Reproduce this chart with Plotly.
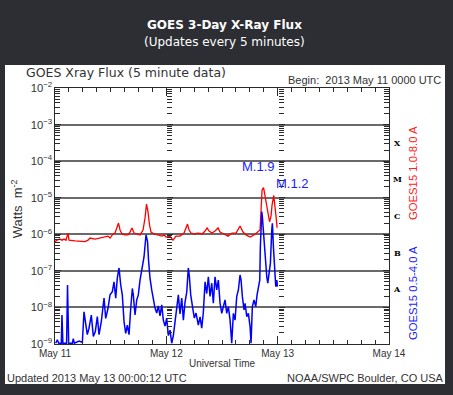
import plotly.graph_objects as go

# ---------------- data ----------------
day_labels = ["May 11", "May 12", "May 13", "May 14"]
day_hours = [0, 24, 48, 72]

class_letters = ["X", "M", "C", "B", "A"]
class_levels = [-3.5, -4.5, -5.5, -6.5, -7.5]   # log10 of mid-decade

# GOES15 1.0-8.0 A (hours since 2013 May 11 00:00 UTC, W m^-2)
red_hours = [0, 0.43, 1.08, 1.51, 1.94, 2.37, 2.80, 3.02, 4.31, 5.39,
             6.47, 7.12, 7.55, 8.63, 9.70, 10.78, 11.43, 11.86, 12.51, 12.94,
             13.37, 13.69, 14.02, 14.45, 15.09, 15.74, 16.17, 16.60, 17.03, 17.68,
             18.33, 18.98, 19.41, 19.73, 20.05, 20.38, 20.70, 21.35, 22.21, 23.07,
             23.50, 23.94, 24.80, 25.44, 26.09, 26.95, 27.82, 28.57, 28.89, 29.33,
             29.97, 30.84, 31.70, 32.35, 32.78, 33.21, 33.85, 34.50, 35.15, 35.58,
             36.44, 37.30, 38.17, 39.03, 39.89, 40.54, 41.18, 42.05, 42.91, 43.77,
             44.20, 44.42, 44.64, 44.96, 45.28, 45.61, 45.93, 46.25, 46.58, 46.79,
             47.16, 47.44, 47.66, 47.87, 47.98]
red_flux = [6.3e-7, 6.9e-7, 7.4e-7, 6.9e-7, 7.4e-7, 6.9e-7, 1.08e-6, 6.9e-7, 6.6e-7, 6.6e-7,
            6.3e-7, 6.9e-7, 7.9e-7, 7.4e-7, 7.9e-7, 8.2e-7, 8.9e-7, 7.9e-7, 1.02e-6, 1.08e-6,
            1.49e-6, 2.03e-6, 1.31e-6, 1.02e-6, 9.6e-7, 9.6e-7, 1.15e-6, 1.49e-6, 1.08e-6, 1.02e-6,
            9.6e-7, 1.31e-6, 2.8e-6, 6.7e-6, 4.1e-6, 1.78e-6, 1.15e-6, 1.02e-6, 9.6e-7, 8.9e-7,
            9.6e-7, 8.4e-7, 8.9e-7, 6.9e-7, 8.9e-7, 8.9e-7, 1.08e-6, 1.9e-6, 1.31e-6, 1.08e-6,
            1.02e-6, 1.08e-6, 1.02e-6, 1.23e-6, 1.49e-6, 1.23e-6, 1.08e-6, 1.23e-6, 1.49e-6, 1.15e-6,
            1.02e-6, 8.9e-7, 1.08e-6, 1.08e-6, 1.69e-6, 1.15e-6, 9.6e-7, 8.4e-7, 9.6e-7, 1.23e-6,
            1.31e-6, 4.6e-6, 1.62e-5, 1.9e-5, 1.05e-5, 5.6e-6, 3.2e-6, 2.2e-6, 3.2e-6, 6.3e-6,
            1.15e-5, 6.3e-6, 3.0e-6, 1.58e-6, 1.6e-6]

# GOES15 0.5-4.0 A
blue_hours = [0.15, 0.5, 0.8, 1.36, 1.5, 1.7, 2.5, 2.7, 2.95, 3.73,
              3.95, 4.16, 5.2, 5.9, 6.25, 6.6, 6.96, 7.33, 7.83, 8.26,
              8.69, 9.12, 9.49, 9.98, 10.57, 10.93, 11.43, 11.86, 12.36, 12.72,
              13.09, 13.43, 13.8, 14.17, 14.51, 14.88, 15.24, 15.59, 15.96, 16.32,
              16.67, 16.88, 17.25, 17.62, 17.96, 18.33, 18.76, 19.19, 19.62, 19.95,
              20.16, 20.48, 20.85, 21.2, 21.56, 21.93, 22.27, 22.64, 23.01, 23.35,
              23.72, 24.08, 24.43, 24.80, 25.16, 25.51, 25.88, 26.24, 26.59, 26.95,
              27.32, 27.67, 28.03, 28.40, 28.74, 28.96, 29.26, 29.69, 30.04, 30.40,
              30.90, 31.27, 31.63, 31.98, 32.35, 32.71, 33.06, 33.42, 33.79, 34.13,
              34.50, 34.87, 35.21, 35.58, 35.95, 36.29, 36.66, 37.02, 37.37, 37.74,
              38.10, 38.45, 38.81, 39.18, 39.53, 39.89, 40.11, 40.39, 40.75, 40.97,
              41.34, 41.68, 42.05, 42.26, 42.54, 42.91, 43.28, 43.56, 43.84, 44.14,
              44.27, 44.42, 44.57, 44.70, 44.91, 45.13, 45.43, 45.65, 45.87, 46.15,
              46.43, 46.73, 46.86, 47.08, 47.29, 47.59, 47.81, 47.95]
blue_flux = [1.05e-9, 1.3e-9, 1.05e-9, 1.05e-9, 6.2e-9, 1.05e-9, 1.05e-9, 4.1e-8, 1.05e-9, 1.05e-9,
             1.4e-9, 1.05e-9, 1.2e-9, 1.1e-9, 7.6e-9, 4.1e-9, 1.8e-9, 2.7e-9, 6.2e-9, 1.6e-9,
             2.2e-9, 5.6e-9, 1.8e-9, 4.1e-9, 1.8e-8, 5.0e-9, 9.5e-9, 2.2e-8, 2.7e-8, 5.0e-8,
             1.8e-8, 6.3e-8, 1.2e-7, 4.1e-8, 2.2e-8, 4.1e-9, 1.95e-9, 3.3e-9, 1.8e-9, 9.5e-9,
             3.3e-8, 2.2e-8, 6.2e-9, 1.6e-8, 2.2e-8, 5.6e-8, 1.05e-7, 2.4e-7, 9.6e-7, 6.3e-7,
             2.0e-7, 6.3e-8, 3.0e-8, 1.6e-8, 9.6e-9, 7.0e-9, 1.1e-8, 5.9e-9, 1.17e-8, 4.5e-9,
             3.1e-9, 5.1e-9, 1.7e-9, 2.4e-9, 1.05e-9, 1.7e-9, 4.0e-9, 9.6e-9, 2.2e-8, 6.6e-9,
             1.8e-8, 4.5e-9, 1.4e-8, 2.6e-8, 1.2e-7, 7.2e-8, 2.2e-8, 9.6e-9, 5.1e-9, 7.0e-9,
             3.3e-9, 5.5e-9, 2.7e-9, 7.5e-9, 5.0e-8, 2.4e-8, 6.9e-8, 2.0e-8, 4.6e-8, 1.3e-8,
             6.9e-8, 3.0e-8, 5.6e-8, 1.3e-8, 6.9e-9, 1.05e-8, 1.6e-8, 6.9e-9, 1.05e-8, 4.5e-9,
             1.05e-9, 6.9e-9, 4.5e-9, 2.0e-8, 3.0e-8, 7.7e-8, 5.6e-8, 2.0e-8, 8.5e-9, 1.3e-8,
             5.6e-9, 6.9e-9, 3.0e-9, 1.05e-9, 1.05e-8, 1.6e-8, 1.05e-8, 2.2e-8, 3.7e-8, 5.6e-8,
             4.6e-7, 2.5e-6, 4.2e-6, 3.0e-6, 1.31e-6, 4.6e-7, 1.3e-7, 6.9e-8, 4.6e-8, 8.6e-8,
             1.6e-7, 1.31e-6, 2.0e-6, 4.6e-7, 1.3e-7, 3.7e-8, 5.6e-8, 3.7e-8]

flare_labels = ["M.1.9", "M.1.2"]
flare_label_hours = [43.8, 51.1]
flare_label_log = [-4.16, -4.62]

# ---------------- figure ----------------
INK = "#2a2a2a"
BG = "#2c2e33"
FONT = "Liberation Sans"

fig = go.Figure()
fig.add_trace(go.Scatter(x=red_hours, y=red_flux, mode="lines",
                         line=dict(color="#ff0000", width=1.3), hoverinfo="skip"))
fig.add_trace(go.Scatter(x=blue_hours, y=blue_flux, mode="lines",
                         line=dict(color="#0000ff", width=1.5), hoverinfo="skip"))
# empty traces to host the mid-plot tick columns
fig.add_trace(go.Scatter(x=[], y=[], yaxis="y2", hoverinfo="skip"))
fig.add_trace(go.Scatter(x=[], y=[], yaxis="y3", hoverinfo="skip"))

minor_y = dict(dtick="D1", ticks="inside", ticklen=5, tickcolor=INK, tickwidth=1, showgrid=False)

fig.update_layout(
    width=453, height=395,
    margin=dict(l=55, r=64, t=88, b=51, pad=0, autoexpand=False),
    paper_bgcolor=BG, plot_bgcolor="white",
    showlegend=False,
    font=dict(family=FONT, color=INK),
    xaxis=dict(range=[0, 72], tickvals=day_hours, ticktext=day_labels, automargin=False,
               ticks="inside", ticklen=8, tickcolor=INK, tickwidth=1,
               showline=True, linecolor=INK, linewidth=1, mirror="ticks",
               showgrid=False, zeroline=False,
               minor=dict(dtick=3, ticks="inside", ticklen=4, tickcolor=INK, showgrid=False),
               tickfont=dict(size=10, color="#333")),
    yaxis=dict(type="log", range=[-9, -2], dtick=1, exponentformat="power", automargin=False,
               ticks="inside", ticklen=6, tickcolor=INK,
               showline=True, linecolor=INK, linewidth=1, mirror="ticks",
               showgrid=True, gridcolor="#6a6a6a", gridwidth=2, zeroline=False,
               minor=minor_y, tickfont=dict(size=9, color="#333")),
    yaxis2=dict(type="log", range=[-9, -2], dtick=1, overlaying="y", anchor="free",
                position=1/3, side="left", showticklabels=False, showline=False, automargin=False,
                showgrid=False, zeroline=False, ticks="inside", ticklen=6, tickcolor=INK,
                minor=minor_y),
    yaxis3=dict(type="log", range=[-9, -2], dtick=1, overlaying="y", anchor="free",
                position=2/3, side="left", showticklabels=False, showline=False, automargin=False,
                showgrid=False, zeroline=False, ticks="inside", ticklen=6, tickcolor=INK,
                minor=minor_y),
)

# white panel behind the plot
fig.add_shape(type="rect", xref="paper", yref="paper", x0=-0.1497, x1=1.1677,
              y0=-0.156, y1=1.0898, fillcolor="white", line=dict(width=0), layer="below")


def note(text, x, y, size, color, xanchor="center", angle=0, family=FONT, xref="paper", yref="paper"):
    return dict(text=text, x=x, y=y, xref=xref, yref=yref, xanchor=xanchor, yanchor="middle",
                textangle=angle, showarrow=False, borderpad=0,
                font=dict(family=family, size=size, color=color))


ann = []
# page titles
ann.append(note("<b>GOES 3-Day X-Ray Flux</b>", 0.5075, 1.246, 12, "white", family="DejaVu Sans"))
ann.append(note("(Updates every 5 minutes)", 0.5075, 1.18, 12, "white", family="DejaVu Sans"))
# panel texts
ann.append(note("GOES Xray Flux (5 minute data)", -0.0898, 1.06, 12.5, "#333",
                xanchor="left", family="DejaVu Sans"))
ann.append(note("Begin:  2013 May 11 0000 UTC", 1.159, 1.031, 11, "#333", xanchor="right"))
ann.append(note("Universal Time", 0.5, -0.078, 10, "#333"))
ann.append(note("Updated 2013 May 13 00:00:12 UTC", -0.147, -0.133, 11, "#333", xanchor="left"))
ann.append(note("NOAA/SWPC Boulder, CO USA", 1.1677, -0.133, 11, "#333", xanchor="right"))
ann.append(note("Watts  m<sup>-2</sup>", -0.114, 0.53, 13, "#333", angle=-90))
# right-side series labels
ann.append(note("GOES15 1.0-8.0 A", 1.072, 0.668, 11.3, "#ff2020", angle=-90))
ann.append(note("GOES15 0.5-4.0 A", 1.072, 0.199, 11.3, "#2020ff", angle=-90))
# flare class letters
for letter, lvl in zip(class_letters, class_levels):
    ann.append(note("<b>" + letter + "</b>", 1.024, lvl, 8, "black", family="DejaVu Serif", yref="y"))
# flare labels
for lab, hx, ly in zip(flare_labels, flare_label_hours, flare_label_log):
    ann.append(note(lab, hx, ly, 13, "#1a1aff", xref="x", yref="y"))

fig.update_layout(annotations=ann)
fig.write_html("out.html", config={"displayModeBar": False},
               post_script="document.body.style.margin='0';"
                           "document.body.style.background='" + BG + "';"
                           "document.body.style.overflow='hidden';")
